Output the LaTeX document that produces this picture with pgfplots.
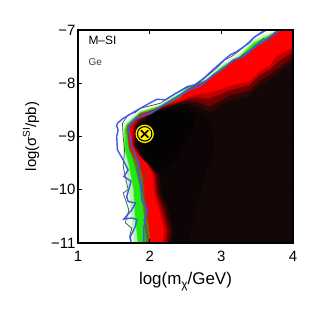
\documentclass[border=0pt]{standalone}
\usepackage{fontspec}
\setmainfont{Liberation Sans}
\usepackage{pgfplots}
\pgfplotsset{compat=1.18}
\definecolor{gA}{HTML}{F0FCEC}
\definecolor{gB}{HTML}{B4F4AC}
\definecolor{gC}{HTML}{22E812}
\definecolor{gD}{HTML}{5F7A10}
\definecolor{rA}{HTML}{FF0000}
\definecolor{rB}{HTML}{C00000}
\definecolor{rC}{HTML}{700000}
\definecolor{rD}{HTML}{300505}
\definecolor{bgdark}{HTML}{130708}
\definecolor{bgmid}{HTML}{0C0405}
\definecolor{bgcore}{HTML}{050202}
\definecolor{cblue}{HTML}{4058E8}
\pgfplotsset{layer/.style={draw=#1,draw opacity=0.5,line width=1.5bp,fill=#1,forget plot}}
\begin{document}
\begin{tikzpicture}[x=1bp,y=1bp]
\useasboundingbox (-78,-79) rectangle (244,243);
\begin{axis}[
  at={(0,0)}, anchor=south west,
  scale only axis, width=215bp, height=213bp,
  xmin=1, xmax=4, ymin=-11, ymax=-7,
  xtick={1,2,3,4}, ytick={-11,-10,-9,-8,-7},
  yticklabels={−11,−10,−9,−8,−7},
  xticklabels={1,2,3,4},
  tick align=inside, major tick length=4bp,
  tick style={black,line width=0.7bp},
  axis line style={line width=1.2bp},
  axis on top,
  every tick label/.append style={font=\fontsize{15}{16}\selectfont},
  xticklabel style={yshift=-5bp},
  yticklabel style={xshift=1bp},
  xlabel={log(m\raisebox{-0.25em}{\fontsize{12}{12}\selectfont χ}/GeV)},
  ylabel={log(σ\raisebox{0.42em}{\fontsize{10}{12}\selectfont SI}/pb)},
  xlabel style={font=\fontsize{17}{18}\selectfont},
  ylabel style={font=\fontsize{15}{16}\selectfont,yshift=3bp},
  xlabel shift=3bp, ylabel shift=1bp,
]
% nested regions, outermost first
\addplot[layer=gA] coordinates {(1.73,-11)(1.68,-10.5)(1.66,-10)(1.63,-9.5)(1.62,-9.25)(1.62,-8.875)(1.66,-8.72)(1.87,-8.5)(2.15,-8.375)(2.42,-8.14)(2.55,-8.05)(2.75,-7.93)(3.03,-7.62)(3.26,-7.42)(3.45,-7.17)(3.6,-7.07)(3.8,-7)(4,-7)(4,-11)} -- cycle;
\addplot[layer=gB] coordinates {(1.79,-11)(1.75,-10.5)(1.72,-10)(1.67,-9.5)(1.64,-9.25)(1.64,-8.875)(1.68,-8.75)(1.87,-8.53)(2.15,-8.41)(2.42,-8.17)(2.55,-8.07)(2.78,-7.94)(3.03,-7.65)(3.26,-7.46)(3.45,-7.21)(3.6,-7.11)(3.82,-7)(4,-7)(4,-11)} -- cycle;
\addplot[layer=gC] coordinates {(1.84,-11)(1.80,-10.5)(1.78,-10)(1.71,-9.5)(1.66,-9.25)(1.655,-8.875)(1.68,-8.78)(1.87,-8.55)(2.15,-8.43)(2.42,-8.21)(2.55,-8.09)(2.78,-7.95)(3.03,-7.68)(3.26,-7.50)(3.45,-7.25)(3.6,-7.15)(3.8,-7.02)(3.84,-7)(4,-7)(4,-11)} -- cycle;
\addplot[layer=gD] coordinates {(1.95,-11)(1.93,-10.5)(1.88,-10)(1.79,-9.5)(1.72,-9.25)(1.68,-8.875)(1.69,-8.8)(1.87,-8.57)(2.15,-8.46)(2.42,-8.26)(2.56,-8.10)(2.80,-7.96)(2.98,-7.76)(3.17,-7.57)(3.31,-7.48)(3.49,-7.28)(3.59,-7.22)(3.75,-7.04)(3.8,-7)(4,-7)(4,-11)} -- cycle;
\addplot[layer=rA] coordinates {(2.01,-11)(2.0,-10.75)(1.97,-10.5)(1.94,-10.25)(1.93,-10)(1.91,-9.75)(1.85,-9.5)(1.76,-9.3)(1.72,-9.2)(1.70,-8.875)(1.70,-8.81)(1.87,-8.59)(2.15,-8.48)(2.42,-8.28)(2.56,-8.12)(2.80,-7.97)(2.98,-7.78)(3.17,-7.59)(3.31,-7.5)(3.49,-7.31)(3.59,-7.25)(3.75,-7.06)(3.82,-7)(4,-7)(4,-11)} -- cycle;
\addplot[layer=rB] coordinates {(2.19,-11)(2.21,-10.75)(2.14,-10.375)(2.07,-10.06)(2.05,-9.72)(1.96,-9.47)(1.84,-9.31)(1.76,-9.16)(1.77,-8.81)(1.82,-8.68)(2.10,-8.47)(2.42,-8.34)(2.52,-8.28)(2.65,-8.22)(2.84,-8.19)(3.12,-8.06)(3.40,-7.97)(3.54,-7.78)(3.68,-7.68)(3.77,-7.5)(4,-7.34)(4,-11)} -- cycle;
\addplot[layer=rC] coordinates {(2.23,-11)(2.25,-10.75)(2.18,-10.375)(2.10,-10.06)(2.08,-9.72)(1.98,-9.5)(1.86,-9.34)(1.78,-9.16)(1.79,-8.81)(1.84,-8.7)(2.10,-8.49)(2.42,-8.36)(2.52,-8.31)(2.65,-8.28)(2.84,-8.3)(3.12,-8.14)(3.40,-8.04)(3.54,-7.85)(3.68,-7.75)(3.8,-7.6)(4,-7.42)(4,-11)} -- cycle;
\addplot[layer=rD] coordinates {(2.27,-11)(2.29,-10.75)(2.22,-10.375)(2.13,-10.06)(2.11,-9.72)(2.0,-9.53)(1.88,-9.37)(1.80,-9.16)(1.81,-8.81)(1.86,-8.72)(2.10,-8.51)(2.42,-8.38)(2.52,-8.35)(2.65,-8.36)(2.84,-8.45)(3.12,-8.24)(3.40,-8.14)(3.54,-7.95)(3.68,-7.85)(3.8,-7.72)(4,-7.52)(4,-11)} -- cycle;
\addplot[layer=bgdark] coordinates {(2.31,-11)(2.33,-10.75)(2.26,-10.375)(2.16,-10.06)(2.14,-9.72)(2.03,-9.55)(1.90,-9.4)(1.82,-9.16)(1.83,-8.81)(1.88,-8.74)(2.10,-8.53)(2.42,-8.4)(2.52,-8.39)(2.65,-8.44)(2.84,-8.55)(3.12,-8.34)(3.40,-8.24)(3.54,-8.05)(3.68,-7.95)(3.8,-7.82)(4,-7.62)(4,-11)} -- cycle;
\addplot[layer=bgmid] coordinates {(2.33,-11)(2.35,-10.75)(2.28,-10.375)(2.18,-10.06)(2.16,-9.72)(2.05,-9.57)(1.92,-9.42)(1.84,-9.16)(1.85,-8.81)(1.90,-8.76)(2.10,-8.55)(2.42,-8.42)(2.52,-8.41)(2.65,-8.5)(2.85,-8.75)(2.9,-9.2)(2.75,-9.8)(2.6,-10.5)(2.55,-11)} -- cycle;
\addplot[layer=bgcore] coordinates {(1.86,-9.16)(1.94,-9.42)(2.07,-9.57)(2.2,-9.6)(2.35,-9.4)(2.55,-9.0)(2.62,-8.65)(2.5,-8.45)(2.1,-8.57)(1.9,-8.78)(1.85,-8.85)} -- cycle;
% black contours
\addplot[black!70,line width=0.7bp,forget plot] coordinates {(1.74,-11)(1.72,-10.88)(1.75,-10.72)(1.66,-10.62)(1.71,-10.38)(1.63,-10.06)(1.70,-10)(1.63,-9.56)(1.65,-9.25)(1.63,-9)(1.62,-8.75)(1.70,-8.59)(1.80,-8.55)(1.87,-8.47)(2.15,-8.375)(2.40,-8.16)(2.52,-8.06)(2.62,-8.03)(2.70,-7.98)(2.93,-7.72)(3.05,-7.56)(3.14,-7.50)(3.26,-7.38)(3.45,-7.14)(3.6,-7)};
\addplot[black!70,line width=0.7bp,forget plot] coordinates {(1.99,-11)(1.92,-10.56)(1.99,-10.44)(1.89,-9.94)(1.96,-9.71)(1.85,-9.5)(1.75,-9.2)(1.71,-8.875)(1.82,-8.68)(2.05,-8.55)(2.3,-8.33)(2.55,-8.1)(2.8,-7.94)(3.1,-7.65)(3.4,-7.38)(3.59,-7.16)(3.68,-7.22)(3.71,-7.12)(3.8,-7)};
% blue contours
\addplot[cblue,line width=1.4bp,forget plot] coordinates {(1.74,-11)(1.73,-10.88)(1.80,-10.69)(1.82,-10.56)(1.75,-10.53)(1.64,-10.55)(1.75,-10.38)(1.80,-10.25)(1.70,-10.22)(1.68,-10.13)(1.74,-9.84)(1.64,-9.75)(1.70,-9.63)(1.63,-9.44)(1.55,-9.25)(1.54,-9.0)(1.56,-8.875)(1.54,-8.81)(1.55,-8.75)(1.63,-8.66)(1.87,-8.47)(2.10,-8.30)(2.22,-8.31)(2.36,-8.19)(2.55,-8.06)(2.63,-8.03)(2.75,-7.91)(2.93,-7.69)(3.12,-7.47)(3.21,-7.41)(3.38,-7.25)(3.47,-7.125)(3.63,-7)};
\addplot[cblue,line width=1.4bp,forget plot] coordinates {(1.92,-11)(1.92,-10.69)(1.96,-10.38)(1.89,-10.19)(1.87,-9.81)(1.83,-9.63)(1.85,-9.5)(1.75,-9.19)(1.71,-8.875)(1.70,-8.81)(1.80,-8.66)(2.01,-8.56)(2.15,-8.44)(2.40,-8.24)(2.56,-8.125)(2.70,-8.06)(2.89,-7.84)(3.03,-7.72)(3.17,-7.56)(3.31,-7.5)(3.45,-7.34)(3.54,-7.25)(3.68,-7.125)(3.82,-7.01)(3.86,-7)};
% best fit symbol
\addplot[only marks,mark=*,mark size=9.5bp,mark options={fill=yellow,draw=none},forget plot] coordinates {(1.93,-8.95)};
\addplot[only marks,mark=o,mark size=7.2bp,mark options={draw=black,line width=1.1bp},forget plot] coordinates {(1.93,-8.95)};
\addplot[only marks,mark=x,mark size=5.2bp,mark options={draw=black,line width=1.5bp},forget plot] coordinates {(1.93,-8.95)};
\node[anchor=west,inner sep=0pt,font=\fontsize{12}{13}\selectfont] at (axis cs:1.144,-7.2) {M–SI};
\node[anchor=west,inner sep=0pt,font=\fontsize{10}{11}\selectfont,text=black!75] at (axis cs:1.144,-7.6) {Ge};
\end{axis}
\end{tikzpicture}
\end{document}
